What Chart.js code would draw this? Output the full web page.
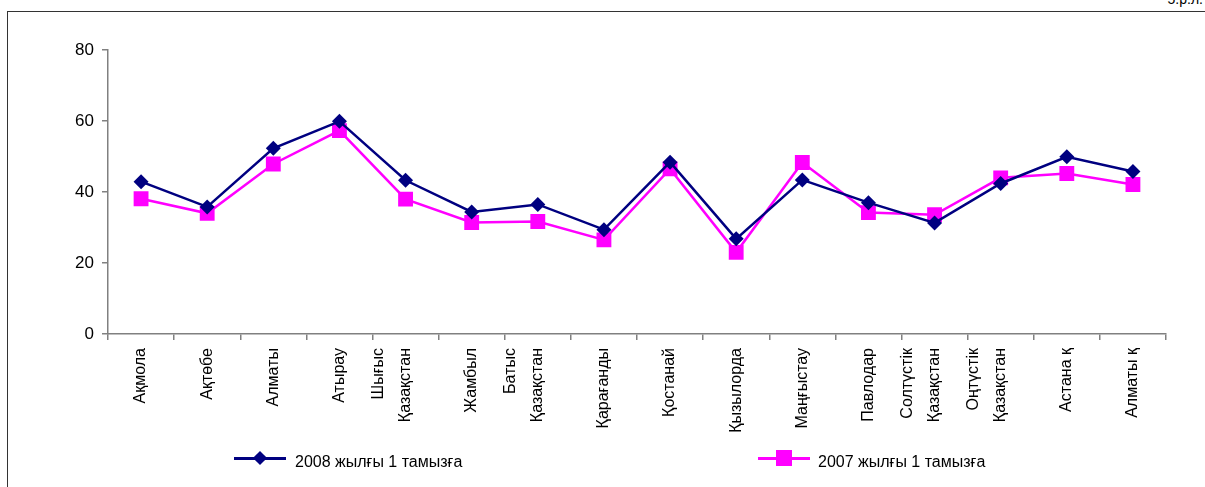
<!DOCTYPE html>
<html>
<head>
<meta charset="utf-8">
<script src="https://cdn.jsdelivr.net/npm/chart.js@4.4.1/dist/chart.umd.min.js"></script>
<style>
    html, body { margin: 0; padding: 0; background: #fff; overflow: hidden; }
    body { width: 1205px; height: 487px; position: relative; font-family: Arial, "Liberation Sans", sans-serif; }
    #frame { position: absolute; left: 7px; top: 11px; width: 1300px; height: 600px; border: 1.5px solid #333; box-sizing: border-box; }
    #corner { position: absolute; right: 2px; top: -9px; font-size: 14px; color: #000; }
    #wrap { position: absolute; left: 0; top: 0; width: 1205px; height: 487px; }
    .leg { position: absolute; top: 449px; height: 20px; font-size: 16px; line-height: 20px; color: #000; }
    .leg .ln { position: absolute; top: 8px; width: 52px; height: 2.5px; }
    .leg .mk { position: absolute; }
    .leg .tx { position: absolute; white-space: nowrap; top: 3px; }
</style>
</head>
<body>
<div id="frame"></div>
<div id="corner">5.р.л.</div>
<div id="wrap"><canvas id="lineChart"></canvas></div>
<div class="leg" style="left:234px;">
    <div class="ln" style="left:0; background:#000080;"></div>
    <div class="mk" style="left:21px; top:4px; width:10px; height:10px; background:#000080; transform:rotate(45deg);"></div>
    <div class="tx" style="left:61px;">2008 жылғы 1 тамызға</div>
</div>
<div class="leg" style="left:758px;">
    <div class="ln" style="left:0; background:#ff00ff;"></div>
    <div class="mk" style="left:18px; top:1px; width:16px; height:16px; background:#ff00ff;"></div>
    <div class="tx" style="left:60px;">2007 жылғы 1 тамызға</div>
</div>
<script>
// Regions (multi-line labels as arrays)
const regions = [
    'Ақмола', 'Ақтөбе', 'Алматы', 'Атырау', ['Шығыс', 'Қазақстан'], 'Жамбыл',
    ['Батыс', 'Қазақстан'], 'Қарағанды', 'Қостанай', 'Қызылорда', 'Маңғыстау',
    'Павлодар', ['Солтүстік', 'Қазақстан'], ['Оңтүстік', 'Қазақстан'], 'Астана қ', 'Алматы қ'
];

// Series values
const values2008 = [42.9, 35.8, 52.3, 59.9, 43.3, 34.4, 36.5, 29.4, 48.4, 26.8, 43.4, 37.0, 31.3, 42.4, 49.9, 45.8];
const values2007 = [38.1, 34.0, 47.9, 57.3, 38.0, 31.4, 31.7, 26.5, 46.5, 23.0, 48.3, 34.2, 33.6, 44.0, 45.2, 42.1];

const yTicks = [0, 20, 40, 60, 80];

const axisColor = '#808080';
const labelFontSize = 16;
const labelLineHeight = 1.7;

// Shift two-line rotated labels so the last line sits on the tick (as in the original)
const shiftMultiLineLabels = {
    id: 'shiftMultiLineLabels',
    beforeDraw(chart) {
        const scale = chart.scales.x;
        const items = scale.getLabelItems(chart.chartArea);
        const lh = labelFontSize * labelLineHeight;
        items.forEach(item => {
            if (Array.isArray(item.label) && !item._shifted) {
                item.options.translation[0] -= lh * (item.label.length - 1);
                item._shifted = true;
            }
        });
    }
};

const ctx = document.getElementById('lineChart').getContext('2d');
const chart = new Chart(ctx, {
    type: 'line',
    data: {
        labels: regions,
        datasets: [{
            label: '2008 жылғы 1 тамызға',
            data: values2008,
            borderColor: '#000080',
            backgroundColor: '#000080',
            borderWidth: 2.5,
            pointStyle: 'rectRot',
            pointRadius: 7.5,
            pointHoverRadius: 7.5,
            pointBorderWidth: 0,
            tension: 0,
            fill: false
        }, {
            label: '2007 жылғы 1 тамызға',
            data: values2007,
            borderColor: '#ff00ff',
            backgroundColor: '#ff00ff',
            borderWidth: 2.5,
            pointStyle: 'rect',
            pointRadius: 10.5,
            pointHoverRadius: 10.5,
            pointBorderWidth: 0,
            tension: 0,
            fill: false
        }]
    },
    options: {
        responsive: true,
        maintainAspectRatio: false,
        animation: false,
        layout: { padding: { left: 0, top: 50, right: 39, bottom: 0 } },
        plugins: {
            legend: { display: false },
            tooltip: { enabled: false }
        },
        scales: {
            y: {
                min: 0,
                max: 80,
                afterBuildTicks: scale => { scale.ticks = yTicks.map(v => ({ value: v })); },
                afterFit: scale => { scale.width = 108; },
                ticks: { color: '#000', font: { size: 17, family: 'Arial, "Liberation Sans"' }, padding: 8 },
                grid: { drawOnChartArea: false, drawTicks: true, tickLength: 6, color: axisColor, lineWidth: 1.5 },
                border: { display: true, color: axisColor, width: 1.5 }
            },
            x: {
                offset: true,
                afterFit: scale => { scale.height = 153; },
                ticks: {
                    color: '#000',
                    autoSkip: false,
                    minRotation: 90,
                    maxRotation: 90,
                    padding: 8,
                    font: { size: labelFontSize, family: 'Arial, "Liberation Sans"', lineHeight: labelLineHeight }
                },
                grid: { offset: true, drawOnChartArea: false, drawTicks: true, tickLength: 6, color: axisColor, lineWidth: 1.5 },
                border: { display: true, color: axisColor, width: 1.5 }
            }
        }
    },
    plugins: [shiftMultiLineLabels]
});
</script>
</body>
</html>
